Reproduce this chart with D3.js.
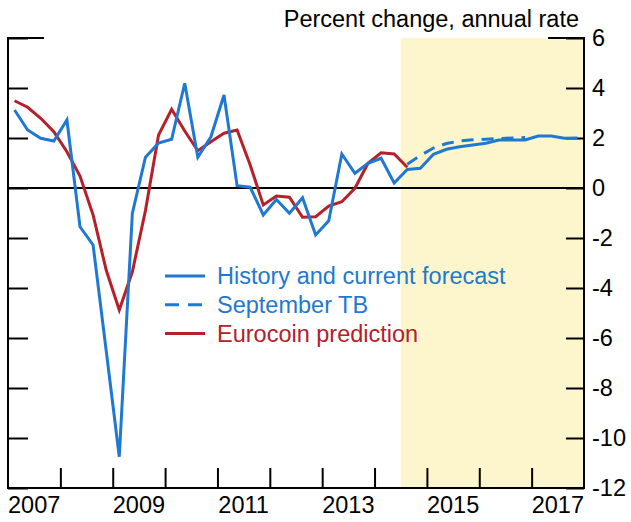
<!DOCTYPE html>
<html><head><meta charset="utf-8">
<script src="https://cdn.jsdelivr.net/npm/d3@7"></script>
<style>
html,body{margin:0;padding:0;background:#fff;}
svg{display:block;font-family:"Liberation Sans",Arial,sans-serif;}
</style></head>
<body>
<svg id="chart" width="631" height="522"></svg>
<script>
// Quarters 2007Q1 .. 2017Q4 (year, quarter)
const years = [2007,2008,2009,2010,2011,2012,2013,2014,2015,2016,2017];
const quarters = years.flatMap(y => [1,2,3,4].map(q => ({year: y, q: q})));

const historyForecast = [3.12,2.32,1.99,1.88, 2.72,-1.55,-2.28,-6.5, -10.75,-1.01,1.23,1.8,
  1.95,4.19,1.23,2.05, 3.72,0.09,0.03,-1.08, -0.46,-1.01,-0.39,-1.88, -1.31,1.36,0.59,0.99,
  1.19,0.2,0.74,0.79, 1.35,1.55,1.65,1.72, 1.79,1.92,1.92,1.92, 2.08,2.08,1.99,2.0];
const septemberTB = [0.95,1.3,1.6,1.78,1.88,1.93,1.95,1.98,2.0,2.02]; // 2014Q3..2016Q4
const septemberStart = 30;
const eurocoin = [3.49,3.23,2.79,2.25, 1.45,0.48,-1.08,-3.28, -4.88,-3.35,-0.9,2.12,
  3.15,2.28,1.49,1.85, 2.19,2.32,0.92,-0.68, -0.32,-0.37,-1.17,-1.15, -0.72,-0.55,-0.01,0.99,
  1.41,1.36,0.83];

const yTicks = [6,4,2,0,-2,-4,-6,-8,-10,-12];
const yearLabels = [2007,2009,2011,2013,2015,2017];
const yearTicks = [2008,2009,2010,2011,2012,2013,2014,2015,2016,2017];
const forecastShade = [2014.5, 2018];
const legendItems = [
  {label: "History and current forecast", color: "#1f78d1", dash: null},
  {label: "September TB", color: "#1f78d1", dash: "14,9"},
  {label: "Eurocoin prediction", color: "#b5202a", dash: null}
];
const unitLabel = "Percent change, annual rate";

const svg = d3.select("#chart");
const L = 8, R = 584, T = 38, B = 488;
const FS = 23.5;
const x = d3.scaleLinear().domain([2007, 2018]).range([L, R]);
const y = d3.scaleLinear().domain([-12, 6]).range([B, T]);
const qx = i => x(quarters[i].year + (quarters[i].q - 0.5) / 4);

// shading
svg.append("rect")
  .attr("x", x(forecastShade[0])).attr("y", T)
  .attr("width", x(forecastShade[1]) - x(forecastShade[0]))
  .attr("height", B - T)
  .attr("fill", "#fdf6cd");

// zero line
svg.append("line").attr("x1", L).attr("x2", R).attr("y1", y(0)).attr("y2", y(0))
  .attr("stroke", "#000").attr("stroke-width", 2);

// left axis (ticks inward, no labels)
const leftAxis = d3.axisRight(y).tickValues(yTicks).tickSize(20).tickFormat("");
const gl = svg.append("g").attr("transform", `translate(${L},0)`).call(leftAxis);
// right axis
const rightAxis = d3.axisLeft(y).tickValues(yTicks).tickSize(18).tickFormat("");
const gr = svg.append("g").attr("transform", `translate(${R},0)`).call(rightAxis);
// bottom axis ticks
const bottomAxis = d3.axisTop(x).tickValues(yearTicks).tickSize(20).tickFormat("");
const gb = svg.append("g").attr("transform", `translate(0,${B})`).call(bottomAxis);
[gl, gr, gb].forEach(g => {
  g.select(".domain").remove();
  g.selectAll(".tick line").attr("stroke", "#000").attr("stroke-width", 2);
});

// frame: left, right, bottom
svg.append("path")
  .attr("d", `M${L},${T}V${B}H${R}V${T}`)
  .attr("fill", "none").attr("stroke", "#000").attr("stroke-width", 2);
// top corner segments
svg.append("line").attr("x1", L - 1).attr("x2", L + 36).attr("y1", T).attr("y2", T)
  .attr("stroke", "#000").attr("stroke-width", 2);
svg.append("line").attr("x1", R - 36).attr("x2", R + 1).attr("y1", T).attr("y2", T)
  .attr("stroke", "#000").attr("stroke-width", 2);

// right axis labels
svg.append("g").selectAll("text").data(yTicks).join("text")
  .attr("x", 592).attr("y", d => y(d)).attr("dy", "0.36em")
  .attr("font-size", FS).attr("fill", "#000")
  .text(d => d);

// year labels
svg.append("g").selectAll("text").data(yearLabels).join("text")
  .attr("x", d => x(d + 0.5)).attr("y", 513)
  .attr("text-anchor", "middle").attr("font-size", FS).attr("fill", "#000")
  .text(d => d);

// unit label
svg.append("text").attr("x", 579).attr("y", 27).attr("text-anchor", "end")
  .attr("font-size", FS).attr("fill", "#000").text(unitLabel);

// lines
const line = d3.line().x(d => qx(d.i)).y(d => y(d.v));
svg.append("path")
  .datum(eurocoin.map((v, i) => ({i, v})))
  .attr("d", line).attr("fill", "none")
  .attr("stroke", legendItems[2].color).attr("stroke-width", 3).attr("stroke-linejoin", "miter");
svg.append("path")
  .datum(septemberTB.map((v, i) => ({i: i + septemberStart, v})))
  .attr("d", line).attr("fill", "none")
  .attr("stroke", legendItems[1].color).attr("stroke-width", 3).attr("stroke-dasharray", "12,8");
svg.append("path")
  .datum(historyForecast.map((v, i) => ({i, v})))
  .attr("d", line).attr("fill", "none")
  .attr("stroke", legendItems[0].color).attr("stroke-width", 3).attr("stroke-linejoin", "miter");

// legend
const lg = svg.append("g");
legendItems.forEach((d, k) => {
  const yy = 276 + k * 28.7;
  lg.append("line").attr("x1", 165).attr("x2", 205).attr("y1", yy).attr("y2", yy)
    .attr("stroke", d.color).attr("stroke-width", 3)
    .attr("stroke-dasharray", d.dash);
  lg.append("text").attr("x", 217).attr("y", yy).attr("dy", "0.36em")
    .attr("font-size", FS).attr("fill", d.color).text(d.label);
});
</script>
</body></html>
